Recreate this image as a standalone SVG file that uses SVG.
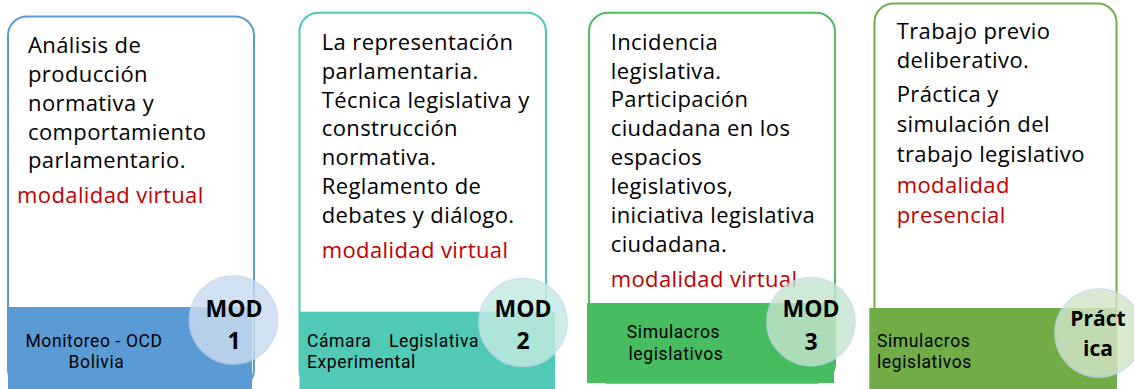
<svg xmlns="http://www.w3.org/2000/svg" width="1134" height="389" viewBox="0 0 1134 389">
<style>
  .body { font-family: "Open Sans", "Liberation Sans", sans-serif; font-size: 22px; letter-spacing: 0.4px; fill: #000; }
  .red { fill: #C00000; }
  .band { font-family: Roboto, "Liberation Sans", sans-serif; font-size: 17.5px; letter-spacing: 0.6px; fill: #000; }
  .mod { font-family: "Open Sans", "Liberation Sans", sans-serif; font-size: 23px; font-weight: bold; fill: #000; text-anchor: middle; }
  .prac { font-size: 21px; }
  .card { fill: #fff; stroke-width: 2; }
  .circ { stroke-width: 1.5; opacity: 0.82; }
</style>
<rect width="1134" height="389" fill="#fff"/>

<g id="mod1">
  <rect class="card" x="8" y="16.5" width="246" height="372" rx="19" stroke="#5B9BD5"/>
  <text class="body" x="28">
    <tspan x="28" y="53.3">Análisis de</tspan>
    <tspan x="28" y="82">producción</tspan>
    <tspan x="28" y="110.8">normativa y</tspan>
    <tspan x="28" y="139.5">comportamiento</tspan>
    <tspan x="28" y="168.3">parlamentario.</tspan>
  </text>
  <text class="body red" x="17" y="202.7">modalidad virtual</text>
  <rect x="8" y="307" width="244" height="82" fill="#5B9BD5"/>
  <text class="band" text-anchor="middle">
    <tspan x="96.5" y="347">Monitoreo - OCD</tspan>
    <tspan x="96.5" y="368">Bolivia</tspan>
  </text>
  <circle class="circ" cx="233.5" cy="320" r="44" fill="#CADCF1" stroke="#C3D4EC"/>
  <text class="mod"><tspan x="234" y="316.7">MOD</tspan><tspan x="234" y="349">1</tspan></text>
</g>

<g id="mod2">
  <rect class="card" x="299.5" y="12.7" width="246.5" height="376" rx="19" stroke="#52C9B4"/>
  <text class="body">
    <tspan x="321.7" y="50">La representación</tspan>
    <tspan x="321.7" y="78.8">parlamentaria.</tspan>
    <tspan x="321.7" y="107.6">Técnica legislativa y</tspan>
    <tspan x="321.7" y="136.4">construcción</tspan>
    <tspan x="321.7" y="165.2">normativa.</tspan>
    <tspan x="321.7" y="194">Reglamento de</tspan>
    <tspan x="321.7" y="222.8">debates y diálogo.</tspan>
  </text>
  <text class="body red" x="321.7" y="258.3">modalidad virtual</text>
  <rect x="299.5" y="311.7" width="255.5" height="77.3" fill="#50C9B6"/>
  <text class="band">
    <tspan x="307" y="347">Cámara</tspan><tspan x="389" y="347">Legislativa</tspan>
    <tspan x="307" y="368">Experimental</tspan>
  </text>
  <circle class="circ" cx="523" cy="322.5" r="44" fill="#C4EAE4" stroke="#C6DCEC"/>
  <text class="mod"><tspan x="523" y="316.7">MOD</tspan><tspan x="523" y="349">2</tspan></text>
</g>

<g id="mod3">
  <rect class="card" x="589" y="12.7" width="246" height="370" rx="19" stroke="#4CBA5F"/>
  <text class="body">
    <tspan x="610.7" y="50">Incidencia</tspan>
    <tspan x="610.7" y="78.6">legislativa.</tspan>
    <tspan x="610.7" y="107.4">Participación</tspan>
    <tspan x="610.7" y="136.4">ciudadana en los</tspan>
    <tspan x="610.7" y="165.4">espacios</tspan>
    <tspan x="610.7" y="194.4">legislativos,</tspan>
    <tspan x="610.7" y="223.3">iniciativa legislativa</tspan>
    <tspan x="610.7" y="252.3">ciudadana.</tspan>
  </text>
  <text class="body red" x="610.7" y="286.7">modalidad virtual</text>
  <rect x="587" y="303" width="247" height="80" fill="#48BC60"/>
  <text class="band" text-anchor="middle">
    <tspan x="676" y="338">Simulacros</tspan>
    <tspan x="676" y="360">legislativos</tspan>
  </text>
  <circle class="circ" cx="811" cy="321.7" r="44" fill="#C4E5CC" stroke="#C8D8EC"/>
  <text class="mod"><tspan x="811" y="316.7">MOD</tspan><tspan x="811" y="350">3</tspan></text>
</g>

<g id="practica">
  <rect class="card" x="874.5" y="3.5" width="242" height="385" rx="19" stroke="#70AD47"/>
  <text class="body">
    <tspan x="896.7" y="39">Trabajo previo</tspan>
    <tspan x="896.7" y="68">deliberativo.</tspan>
    <tspan x="896.7" y="102">Práctica y</tspan>
    <tspan x="896.7" y="132">simulación del</tspan>
    <tspan x="896.7" y="162">trabajo legislativo</tspan>
  </text>
  <text class="body red"><tspan x="896.7" y="193">modalidad</tspan><tspan x="896.7" y="223">presencial</tspan></text>
  <rect x="869.3" y="308" width="247.7" height="81" fill="#70AD47"/>
  <text class="band">
    <tspan x="877" y="347">Simulacros</tspan>
    <tspan x="877" y="367.5">legislativos</tspan>
  </text>
  <circle class="circ" cx="1099" cy="333" r="44" fill="#D3E5C7" stroke="#C8D8EC"/>
  <text class="mod prac"><tspan x="1098" y="326">Práct</tspan><tspan x="1098" y="355.5">ica</tspan></text>
</g>

<g id="connectors"></g>
</svg>
